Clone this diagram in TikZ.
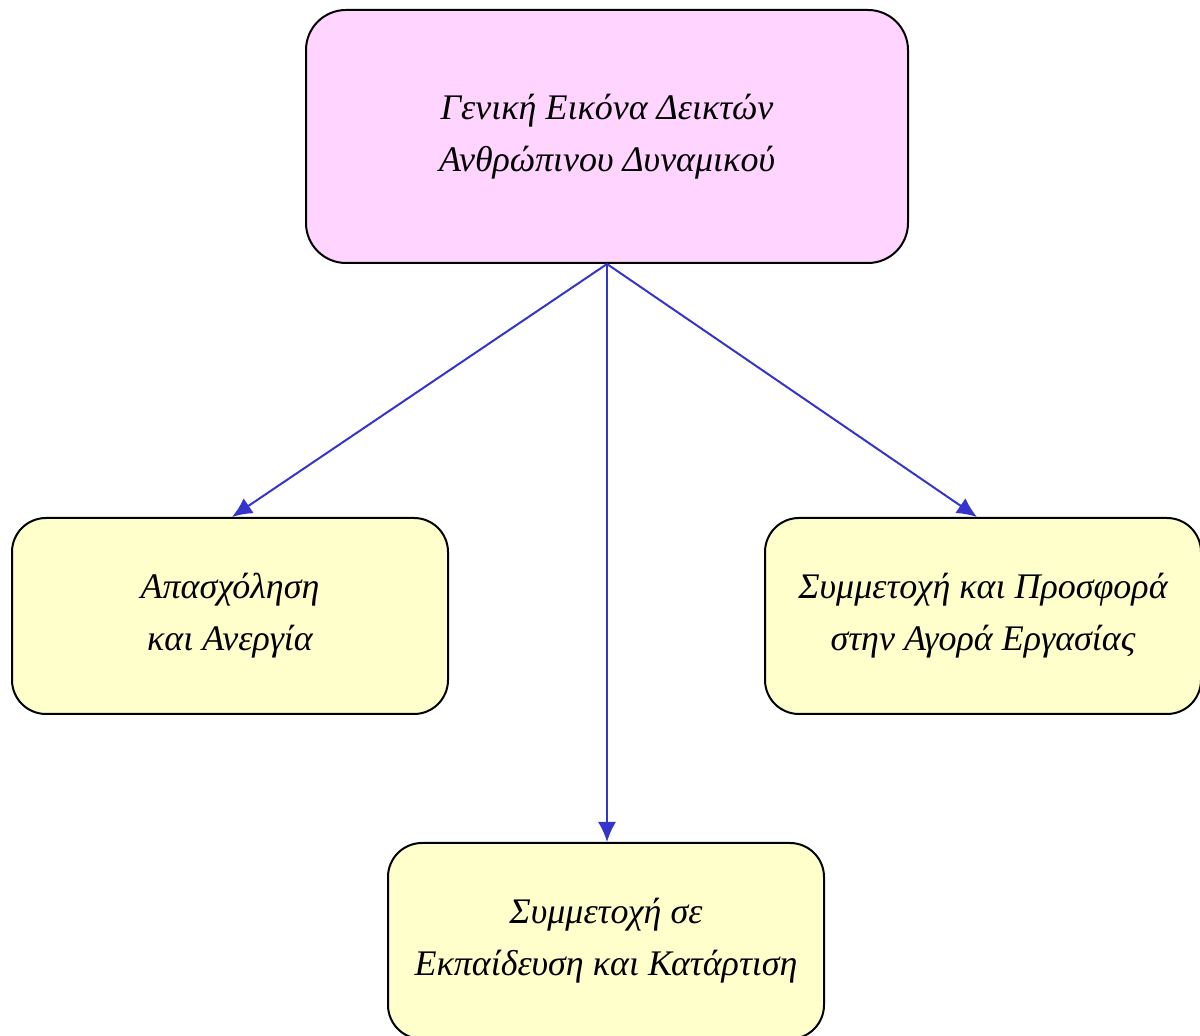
\documentclass[tikz,border=0pt]{standalone}
\usepackage{fontspec}
\setmainfont{Liberation Serif}
\usepackage{xcolor}
\usetikzlibrary{arrows.meta, positioning}

\definecolor{toppink}{HTML}{FFD5FF}
\definecolor{boxyellow}{HTML}{FFFFCC}
\definecolor{arrowblue}{HTML}{3535CC}

\begin{document}
\begin{tikzpicture}[x=0.5pt, y=-0.5pt]
		\tikzset{
			top/.style={rectangle, draw, black, line width=1pt, fill=toppink, align=center,
			font=\fontsize{18}{26}\selectfont\itshape, minimum width=301pt, minimum height=126.5pt, rounded corners=20pt},
			area/.style={rectangle, draw, black, line width=1pt, fill=boxyellow, align=center,
			font=\fontsize{18}{26}\selectfont\itshape, minimum width=218pt, minimum height=98pt, rounded corners=17pt},
			link/.style={arrowblue, line width=1pt, -{Latex[length=10pt, width=9pt]}}
		}
		\useasboundingbox (0,0) rectangle (1200,1036);
		\node[top](general) at (607,136.5){Γενική Εικόνα Δεικτών \\ Ανθρώπινου Δυναμικού};
		\node[area](employment) at (230,616){Απασχόληση \\ και Ανεργία};
		\node[area](labour) at (983,616){Συμμετοχή και Προσφορά \\ στην Αγορά Εργασίας};
		\node[area](training) at (606,941){Συμμετοχή σε \\ Εκπαίδευση και Κατάρτιση};

		\draw[link](general.south) -- ([xshift=1pt]employment.north);
		\draw[link](general.south) -- (general.south |- training.north);
		\draw[link](general.south) -- ([xshift=-3pt]labour.north);
	\end{tikzpicture}
\end{document}
